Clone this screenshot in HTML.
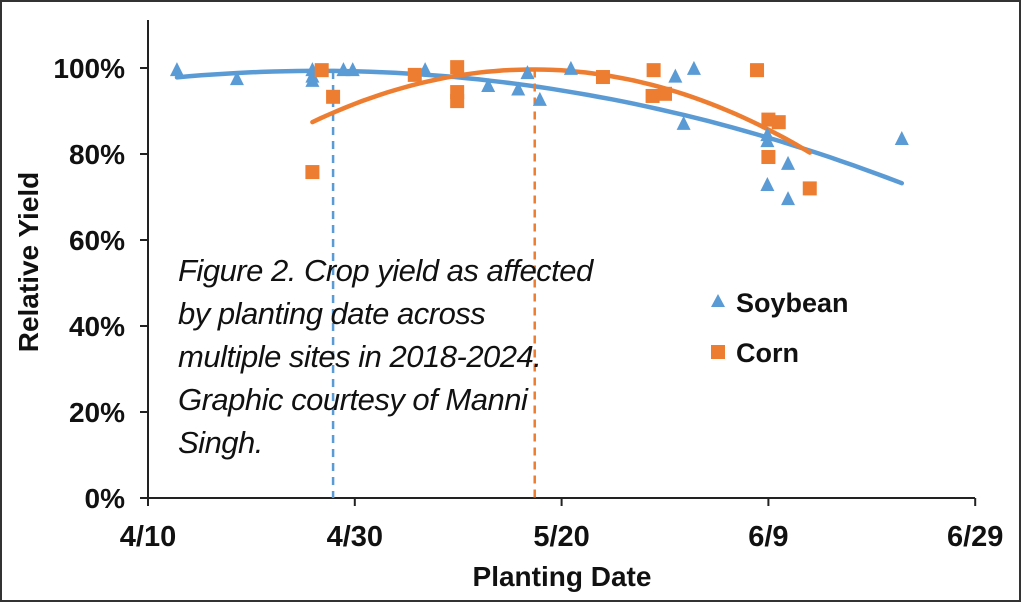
<!DOCTYPE html>
<html><head><meta charset="utf-8"><style>
body{margin:0;background:#fff}
svg text{font-family:"Liberation Sans",sans-serif}
</style></head><body>
<svg id="c" width="1021" height="602">
<rect x="1" y="1" width="1019" height="600" fill="#fff" stroke="#333" stroke-width="2"/>
</svg>
<script>
const xTicks=[0,20,40,60,80];
const xTickLabels=['4/10','4/30','5/20','6/9','6/29'];
const yTicks=[0,20,40,60,80,100];
const soyDays=[2.8,8.6,15.9,15.9,15.9,18.9,19.8,26.8,32.9,35.8,36.7,37.9,40.9,51,52.8,51.8,59.9,59.9,59.9,61.9,61.9,72.9];
const soyYield=[99.5,97.4,99.5,98,97,99.5,99.5,99.5,95.8,95,98.8,92.6,99.8,98,99.8,87,84.4,83,72.8,77.7,69.5,83.5];
const cornDays=[16.8,17.9,15.9,25.8,29.9,29.9,29.9,44,48.9,48.8,50,58.9,60,61,60,64];
const cornYield=[99.5,93.3,75.8,98.4,100.2,94.4,92.3,97.9,99.5,93.5,94,99.5,88,87.4,79.3,72];
const soyOptimumDay=[17.9];
const cornOptimumDay=[37.4];
const svg=document.getElementById('c');const NS='http://www.w3.org/2000/svg';
const X=d=>148+d*10.34, Y=v=>498-v*4.3;
function mk(t,a,p){const e=document.createElementNS(NS,t);for(const k in a)e.setAttribute(k,a[k]);(p||svg).appendChild(e);return e;}
function txt(s,a){const e=mk('text',a);e.textContent=s;return e;}
let e=mk('line',{x1:148,y1:20,x2:148,y2:498,stroke:'#222','stroke-width':2});

e=mk('line',{x1:148,y1:498,x2:975,y2:498,stroke:'#222','stroke-width':2});

yTicks.forEach(v=>{
 mk('line',{x1:140,y1:Y(v),x2:148,y2:Y(v),stroke:'#222','stroke-width':2});
 const t=txt(v+'%',{x:125,y:Y(v)+10,'text-anchor':'end','font-size':28,'font-weight':'bold',fill:'#111'});
 
});
xTicks.forEach((d,i)=>{
 mk('line',{x1:X(d),y1:498,x2:X(d),y2:506,stroke:'#222','stroke-width':2});
 const t=txt(xTickLabels[i],{x:X(d),y:546,'text-anchor':'middle','font-size':29,'font-weight':'bold',fill:'#111'});
 
});
e=txt('Planting Date',{x:562,y:586,'text-anchor':'middle','font-size':28,'font-weight':'bold',fill:'#111'});

e=txt('Relative Yield',{x:0,y:0,transform:'translate(38,262) rotate(-90)','text-anchor':'middle','font-size':28,'font-weight':'bold',fill:'#111'});

function fit(xs,ys){let n=xs.length,s=[0,0,0,0,0],t=[0,0,0];
 for(let i=0;i<n;i++){let p=1;for(let k=0;k<5;k++){s[k]+=p;if(k<3)t[k]+=p*ys[i];p*=xs[i];}}
 const A=[[s[0],s[1],s[2],t[0]],[s[1],s[2],s[3],t[1]],[s[2],s[3],s[4],t[2]]];
 for(let i=0;i<3;i++){for(let j=i+1;j<3;j++){const f=A[j][i]/A[i][i];for(let k=i;k<4;k++)A[j][k]-=f*A[i][k];}}
 const c=[0,0,0];for(let i=2;i>=0;i--){let v=A[i][3];for(let k=i+1;k<3;k++)v-=A[i][k]*c[k];c[i]=v/A[i][i];}return c;}
function trend(xs,ys,opt,col,name){const c=fit(xs,ys);const lo=Math.min(...xs),hi=Math.max(...xs);let d='';
 for(let i=0;i<=60;i++){const x=lo+(hi-lo)*i/60;const y=c[0]+c[1]*x+c[2]*x*x;d+=(i?'L':'M')+X(x).toFixed(1)+' '+Y(y).toFixed(1);}
 const v=opt;const vy=c[0]+c[1]*v+c[2]*v*v;
 let l=mk('line',{x1:X(v),y1:Y(vy),x2:X(v),y2:498,stroke:col,'stroke-width':2.5,'stroke-dasharray':'8,6'});
 
 let p=mk('path',{d:d,fill:'none',stroke:col,'stroke-width':4.5,'stroke-linecap':'round'});
 }
trend(soyDays,soyYield,soyOptimumDay[0],'#5b9bd5','soybean');
trend(cornDays,cornYield,cornOptimumDay[0],'#ed7d31','corn');
soyDays.forEach((d,i)=>{const x=X(d),y=Y(soyYield[i]);
 const m=mk('polygon',{points:`${x},${y-8} ${x-7},${y+6} ${x+7},${y+6}`,fill:'#5b9bd5'});
 });
cornDays.forEach((d,i)=>{const x=X(d),y=Y(cornYield[i]);
 const m=mk('rect',{x:x-7,y:y-7,width:14,height:14,fill:'#ed7d31'});
 });
['Figure 2. Crop yield as affected','by planting date across','multiple sites in 2018-2024.','Graphic courtesy of Manni','Singh.'].forEach((s,i)=>{
 const t=txt(s,{x:178,y:281+i*43,'font-size':31,'font-style':'italic',fill:'#111','letter-spacing':'-0.5'});
 });
e=mk('polygon',{points:'718,294 711,307 725,307',fill:'#5b9bd5'});

e=txt('Soybean',{x:736,y:312,'font-size':27,'font-weight':'bold',fill:'#111'});

e=mk('rect',{x:711,y:345,width:14,height:14,fill:'#ed7d31'});

e=txt('Corn',{x:736,y:362,'font-size':27,'font-weight':'bold',fill:'#111'});

</script>
</body></html>
